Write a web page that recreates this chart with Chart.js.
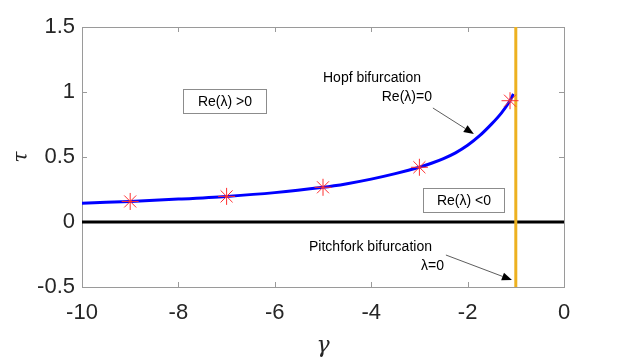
<!DOCTYPE html>
<html>
<head>
<meta charset="utf-8">
<script src="https://cdn.jsdelivr.net/npm/chart.js@4"></script>
<style>
  html, body { margin: 0; padding: 0; background: #fff; }
  canvas { display: block; }
</style>
</head>
<body>
<canvas id="c" width="623" height="358"></canvas>
<script>
// values
var curveX = [-10, -9, -8, -7, -6, -5, -4.5, -4, -3.5, -3, -2.75, -2.5, -2.25, -2, -1.75, -1.5, -1.3, -1.12, -1.05];
var curveY = [0.145, 0.158, 0.176, 0.197, 0.226, 0.267, 0.295, 0.330, 0.372, 0.421, 0.452, 0.488, 0.532, 0.590, 0.664, 0.755, 0.838, 0.933, 0.985];
var starX = [-9, -7, -5, -3, -1.12];
var starY = [0.158, 0.197, 0.267, 0.421, 0.933];
var zeroLineX = [-10, 0];
var pitchforkGamma = -1;
var xTicks = [-10, -8, -6, -4, -2, 0];
var yTicks = [-0.5, 0, 0.5, 1, 1.5];

function pts(xs, ys) {
    return xs.map(function (x, i) { return { x: x, y: ys[i] }; });
}

var tickColor = '#262626';
var axisColor = '#9a9a9a';

// boxes, labels and arrows (data coords)
var boxes = [
    { text: 'Re(\u03bb) >0', x0: -7.90, x1: -6.18, y0: 1.023, y1: 0.838 },
    { text: 'Re(\u03bb) <0', x0: -2.93, x1: -1.24, y0: 0.262, y1: 0.077 }
];
var labels = [
    { text: 'Hopf bifurcation', x: -5.0, y: 1.108, align: 'left' },
    { text: 'Re(\u03bb)=0', x: -2.74, y: 0.962, align: 'right' },
    { text: 'Pitchfork bifurcation', x: -5.29, y: -0.192, align: 'left' },
    { text: '\u03bb=0', x: -2.49, y: -0.338, align: 'right' }
];
var arrows = [
    { x0: -2.72, y0: 0.877, x1: -1.87, y1: 0.677 },
    { x0: -2.45, y0: -0.254, x1: -1.08, y1: -0.446 }
];

var frame = {
    id: 'frame',
    beforeDatasetsDraw: function (chart) {
        var ctx = chart.ctx, a = chart.chartArea;
        var xs = chart.scales.x, ys = chart.scales.y;
        ctx.save();
        ctx.strokeStyle = axisColor;
        ctx.lineWidth = 1;
        ctx.strokeRect(Math.round(a.left) + 0.5, Math.round(a.top) + 0.5,
            Math.round(a.right - a.left), Math.round(a.bottom - a.top));
        ctx.beginPath();
        xTicks.forEach(function (v) {
            var p = Math.round(xs.getPixelForValue(v)) + 0.5;
            ctx.moveTo(p, a.bottom); ctx.lineTo(p, a.bottom - 5);
            ctx.moveTo(p, a.top); ctx.lineTo(p, a.top + 5);
        });
        yTicks.forEach(function (v) {
            var p = Math.round(ys.getPixelForValue(v)) + 0.5;
            ctx.moveTo(a.left, p); ctx.lineTo(a.left + 5, p);
            ctx.moveTo(a.right, p); ctx.lineTo(a.right - 5, p);
        });
        ctx.stroke();
        ctx.restore();
    },
    afterDraw: function (chart) {
        var ctx = chart.ctx;
        var xs = chart.scales.x, ys = chart.scales.y;
        ctx.save();
        ctx.font = '14px "Liberation Sans", Arial, sans-serif';
        ctx.textBaseline = 'middle';

        boxes.forEach(function (b) {
            var l = Math.round(xs.getPixelForValue(b.x0)) + 0.5;
            var r = Math.round(xs.getPixelForValue(b.x1)) + 0.5;
            var t = Math.round(ys.getPixelForValue(b.y0)) + 0.5;
            var btm = Math.round(ys.getPixelForValue(b.y1)) + 0.5;
            ctx.fillStyle = '#fff';
            ctx.fillRect(l, t, r - l, btm - t);
            ctx.strokeStyle = '#8c8c8c';
            ctx.lineWidth = 1;
            ctx.strokeRect(l, t, r - l, btm - t);
            ctx.fillStyle = '#000';
            ctx.textAlign = 'center';
            ctx.fillText(b.text, (l + r) / 2, (t + btm) / 2 + 1);
        });

        labels.forEach(function (lb) {
            ctx.fillStyle = '#000';
            ctx.textAlign = lb.align;
            ctx.fillText(lb.text, xs.getPixelForValue(lb.x), ys.getPixelForValue(lb.y));
        });

        arrows.forEach(function (ar) {
            var x0 = xs.getPixelForValue(ar.x0), y0 = ys.getPixelForValue(ar.y0);
            var x1 = xs.getPixelForValue(ar.x1), y1 = ys.getPixelForValue(ar.y1);
            var ang = Math.atan2(y1 - y0, x1 - x0);
            var len = 10, half = 4;
            var bx = x1 - len * Math.cos(ang), by = y1 - len * Math.sin(ang);
            ctx.strokeStyle = '#333';
            ctx.lineWidth = 0.8;
            ctx.beginPath();
            ctx.moveTo(x0, y0);
            ctx.lineTo(bx, by);
            ctx.stroke();
            ctx.fillStyle = '#000';
            ctx.beginPath();
            ctx.moveTo(x1, y1);
            ctx.lineTo(bx + half * Math.sin(ang), by - half * Math.cos(ang));
            ctx.lineTo(bx - half * Math.sin(ang), by + half * Math.cos(ang));
            ctx.closePath();
            ctx.fill();
        });
        ctx.restore();
    }
};

var ctx = document.getElementById('c').getContext('2d');
var chart = new Chart(ctx, {
    type: 'scatter',
    data: {
        datasets: [
            {
                data: pts(zeroLineX, [0, 0]),
                showLine: true, borderColor: '#000', borderWidth: 3,
                pointRadius: 0, order: 4
            },
            {
                data: pts(curveX, curveY),
                showLine: true, borderColor: '#0000ff', borderWidth: 3,
                tension: 0.3,
                pointRadius: 0, order: 3
            },
            {
                data: pts([pitchforkGamma, pitchforkGamma], [-0.5, 1.5]),
                showLine: true, borderColor: '#EDB120', borderWidth: 3,
                pointRadius: 0, order: 2
            },
            {
                data: pts(starX, starY),
                showLine: false, pointStyle: 'star', pointRadius: 8.5,
                borderColor: '#ff3030', backgroundColor: '#ff3030',
                pointBorderWidth: 1, order: 1
            }
        ]
    },
    options: {
        responsive: false,
        animation: false,
        layout: { padding: { left: 0, right: 59, top: 27, bottom: 0 } },
        plugins: {
            legend: { display: false },
            tooltip: { enabled: false }
        },
        scales: {
            x: {
                type: 'linear', min: -10, max: 0,
                afterFit: function (s) { s.height = 71; },
                afterBuildTicks: function (s) { s.ticks = xTicks.map(function (v) { return { value: v }; }); },
                ticks: {
                    color: tickColor, padding: 13,
                    callback: function (v) { return String(v); },
                    font: { family: '"Liberation Sans", Arial, sans-serif', size: 22 }
                },
                grid: { drawOnChartArea: false, drawTicks: false },
                border: { color: axisColor, width: 1 },
                title: {
                    display: true, text: '\u03b3', color: tickColor,
                    font: { family: '"DejaVu Serif", serif', size: 22, style: 'italic', lineHeight: 1 },
                    padding: { top: 0, bottom: 1 }
                }
            },
            y: {
                type: 'linear', min: -0.5, max: 1.5,
                afterFit: function (s) { s.width = 82; },
                afterBuildTicks: function (s) { s.ticks = yTicks.map(function (v) { return { value: v }; }); },
                ticks: {
                    color: tickColor, padding: 7,
                    callback: function (v) { return String(v); },
                    font: { family: '"Liberation Sans", Arial, sans-serif', size: 22 }
                },
                grid: { drawOnChartArea: false, drawTicks: false },
                border: { color: axisColor, width: 1 },
                title: {
                    display: true, text: '\u03c4', color: tickColor,
                    font: { family: '"DejaVu Serif", serif', size: 20, style: 'italic', lineHeight: 1 },
                    padding: { top: 12, bottom: 0 }
                }
            }
        }
    },
    plugins: [frame]
});
</script>
</body>
</html>
